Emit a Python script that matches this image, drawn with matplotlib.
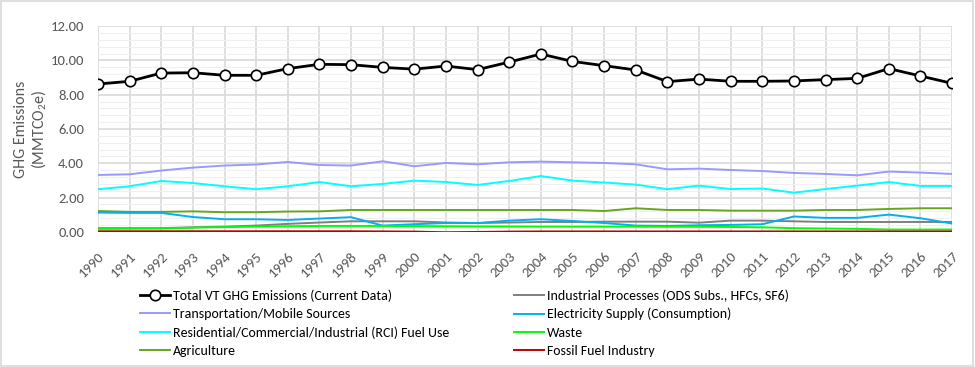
import matplotlib.pyplot as plt
from matplotlib.patches import Rectangle
from matplotlib.ticker import MultipleLocator

# Données (MMTCO2e)
annees = list(range(1990, 2018))

total = [8.62, 8.78, 9.26, 9.28, 9.13, 9.13, 9.52, 9.77, 9.75, 9.59,
         9.49, 9.67, 9.46, 9.90, 10.37, 9.94, 9.69, 9.44, 8.76, 8.91,
         8.78, 8.78, 8.80, 8.88, 8.95, 9.52, 9.09, 8.66]
transport = [3.32, 3.36, 3.58, 3.75, 3.87, 3.93, 4.08, 3.90, 3.87, 4.12,
             3.83, 4.02, 3.94, 4.06, 4.10, 4.06, 4.02, 3.94, 3.65, 3.69,
             3.61, 3.55, 3.44, 3.38, 3.30, 3.52, 3.46, 3.38]
rci = [2.49, 2.66, 2.97, 2.85, 2.66, 2.49, 2.66, 2.91, 2.66, 2.80,
       2.99, 2.91, 2.74, 2.97, 3.26, 2.99, 2.88, 2.76, 2.49, 2.70,
       2.50, 2.53, 2.29, 2.50, 2.70, 2.91, 2.68, 2.68]
agriculture = [1.22, 1.17, 1.17, 1.20, 1.15, 1.15, 1.19, 1.20, 1.28, 1.28,
               1.28, 1.28, 1.28, 1.28, 1.28, 1.28, 1.22, 1.38, 1.28, 1.28,
               1.24, 1.24, 1.24, 1.28, 1.28, 1.34, 1.38, 1.38]
industriel = [0.22, 0.22, 0.22, 0.27, 0.31, 0.37, 0.47, 0.55, 0.62, 0.62,
              0.62, 0.55, 0.52, 0.55, 0.58, 0.58, 0.60, 0.60, 0.60, 0.54,
              0.66, 0.66, 0.62, 0.58, 0.58, 0.58, 0.58, 0.58]
electricite = [1.13, 1.11, 1.11, 0.87, 0.74, 0.74, 0.70, 0.78, 0.86, 0.37,
               0.45, 0.52, 0.52, 0.66, 0.74, 0.64, 0.52, 0.37, 0.35, 0.39,
               0.41, 0.45, 0.90, 0.82, 0.82, 1.01, 0.80, 0.49]
dechets = [0.18, 0.19, 0.20, 0.25, 0.28, 0.31, 0.33, 0.35, 0.35, 0.35,
           0.34, 0.33, 0.32, 0.32, 0.31, 0.31, 0.31, 0.31, 0.30, 0.30,
           0.29, 0.27, 0.22, 0.20, 0.18, 0.14, 0.14, 0.14]
fossile = [0.04, 0.04, 0.04, 0.04, 0.04, 0.04, 0.04, 0.04, 0.04, 0.03,
           0.02, -0.02, 0.00, 0.02, 0.03, 0.03, 0.03, 0.03, 0.03, 0.03,
           0.03, 0.03, 0.03, 0.03, 0.03, 0.03, 0.03, 0.03]

series = [
    ('Total VT GHG Emissions (Current Data)', total, 'black'),
    ('Transportation/Mobile Sources', transport, '#9999FF'),
    ('Residential/Commercial/Industrial (RCI) Fuel Use', rci, '#00FFFF'),
    ('Agriculture', agriculture, '#66A61E'),
    ('Industrial Processes (ODS Subs., HFCs, SF6)', industriel, '#7F7F7F'),
    ('Electricity Supply (Consumption)', electricite, '#00B0F0'),
    ('Waste', dechets, '#00FF00'),
    ('Fossil Fuel Industry', fossile, '#C00000'),
]

plt.rcParams['font.family'] = ['Carlito', 'DejaVu Sans']
plt.rcParams['mathtext.fontset'] = 'custom'
plt.rcParams['mathtext.rm'] = 'Carlito'
plt.rcParams['mathtext.default'] = 'rm'

fig = plt.figure(figsize=(9.75, 3.67), dpi=100)
ax = fig.add_axes([0.1005, 0.368, 0.876, 0.561])

for nom, valeurs, couleur in series:
    if nom.startswith('Total'):
        ax.plot(annees, valeurs, color=couleur, linewidth=2, marker='o',
                markersize=7.5, markerfacecolor='white', markeredgecolor='black',
                markeredgewidth=1.2, label=nom, zorder=5)
    else:
        ax.plot(annees, valeurs, color=couleur, linewidth=1.4, label=nom, zorder=3)

ax.set_xlim(1990, 2017)
ax.set_ylim(0, 12)
ax.set_xticks(annees)
ax.set_xticklabels([str(a) for a in annees], rotation=45, ha='right',
                   rotation_mode='anchor', color='#595959', fontsize=10.5)
ax.yaxis.set_major_locator(MultipleLocator(2))
ax.yaxis.set_minor_locator(MultipleLocator(0.4))
ax.yaxis.set_major_formatter(lambda v, p: f'{v:.2f}')
ax.tick_params(axis='y', labelcolor='#595959', labelsize=10.5, length=0, pad=10)
ax.tick_params(axis='x', length=0, pad=13)
ax.tick_params(axis='y', which='minor', length=0)
ax.grid(True, which='major', color='#D9D9D9', linewidth=1.2)
ax.grid(True, which='minor', axis='y', color='#F0F0F0', linewidth=0.8)
ax.set_axisbelow(True)
for s in ax.spines.values():
    s.set_visible(False)

ax.set_ylabel('GHG Emissions\n(MMTCO$_2$e)', color='#595959', fontsize=11.5,
              linespacing=1.1)
ax.yaxis.set_label_coords(-0.058, 0.5)

fig.legend(loc='upper left', bbox_to_anchor=(0.1436, 0.2125), ncol=2,
           frameon=False, fontsize=10, borderpad=0,
           handlelength=2.15, handletextpad=0.2, columnspacing=4.7,
           labelspacing=0.45, borderaxespad=0)

# Cadre extérieur du graphique
fig.patches.append(Rectangle((0.001, 0.004), 0.997, 0.994, transform=fig.transFigure,
                             fill=False, edgecolor='#D9D9D9', linewidth=1.2))

fig.savefig('out.png', dpi=100)
